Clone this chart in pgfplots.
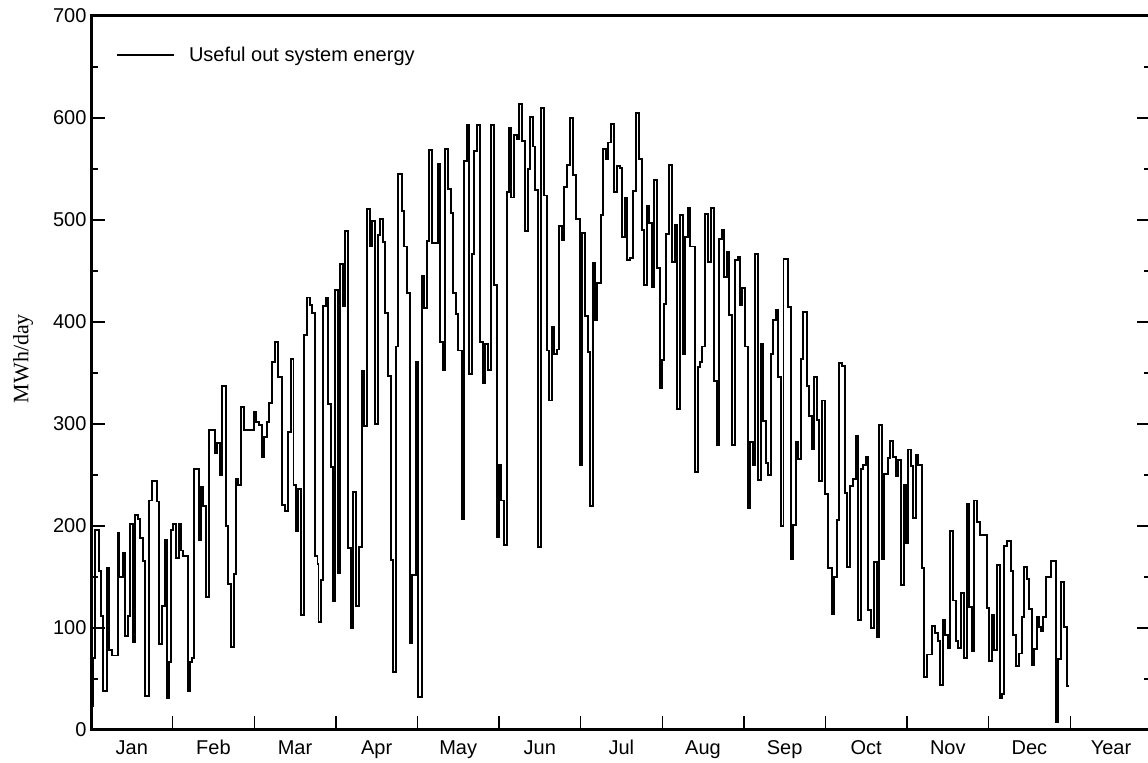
\documentclass[border=0pt]{standalone}
\usepackage{fontspec}
\setmainfont{Liberation Sans}
\newfontfamily\seriffont{Liberation Serif}
\usepackage{pgfplots}
\pgfplotsset{compat=1.18}
\usepackage{pgfplotstable}

% px = horizontal position (axis starts at 91, one month = 81.6)
\pgfplotstableread{
px val
91 23
93.3 71
95.3 196
98.7 156
101 112
103.3 38
106.7 159
109.3 78
112 73
117.7 193
119.3 150
122.7 174
125.3 92
128 112
130.3 202
132.7 86
134.7 211
137.7 207
140.3 188
142.7 166
145.3 33
149.3 225
152 244
156.7 224
158.7 84
162 122
164.7 186
167 31
169.3 67
171.3 196
173.3 202
176 169
178.7 202
181 176
183.3 171
187.7 38
190 67
192 71
194.3 256
199 186
201 238
203.3 220
206 130
209 294
215 272
217.3 281
219.7 250
222.3 337
225.7 200
228.3 143
230.7 81
233.7 153
236 246
238.3 240
240.7 317
243.7 294
253.7 312
256 302
259.3 299
261.7 268
264.3 287
266.7 302
269 321
271.7 361
275 380
277.7 346
282.3 221
285 215
288.3 292
290.7 364
293.5 240
296 195
298.3 236
301 113
304 387
306.7 424
310 417
312.3 409
315 171
317.5 163
318.5 106
320.7 147
322.7 416
325.7 424
328.3 320
330.7 258
333.3 126
335 431
337.7 154
340 457
343.3 416
345 489
348.3 178
351 100
353.3 233
355.7 122
359 179
361.7 352
364.3 298
367 511
370 474
372.3 499
375 300
377.7 485
380 501
383.3 478
385 409
388.3 347
391 167
393.3 57
396 376
398.3 545
401.7 509
404.3 474
406.7 428
410 85
412.3 152
416 361
418.3 32
421.7 445
424.3 414
426.7 479
429.3 569
432.3 477
437.7 555
440 380
442.7 353
445 570
448.3 530
450.7 507
453.3 428
456 408
458.3 372
461.7 207
464 558
466.7 593
469.3 349
471.7 467
474 568
477.3 593
480 380
482.7 340
485 378
487.7 353
490.7 593
494 436
496.7 189
499 260
501 225
504 181
506.7 527
509 590
511 522
513.7 583
516.7 579
519 614
521.7 577
525 489
527.7 550
530 601
532.7 572
535 529
538.3 179
541 610
544.3 524
546.7 372
549 323
551.7 395
554 369
556.7 373
559 494
561.7 480
564.3 532
566.7 554
570 600
573.3 544
575.7 501
580 260
582.3 487
585 406
587.7 371
590 220
592.7 458
595 402
597.3 438
600.7 505
603.3 570
606 560
608.3 576
611 594
614 527
616.7 553
620 551
622.3 483
625 522
627.3 461
630 463
632.7 528
635.7 605
639.3 560
641.7 490
644 436
646.7 514
649.3 497
651.7 434
654 539
657.3 453
660 335
662 363
664 418
666 486
668.7 554
671.7 459
675 495
677.3 315
680 505
682.7 369
685 483
687.7 512
690 474
695 253
697.7 356
700 361
702.3 376
705 506
708.3 459
711 512
714.3 342
716.7 279
719 481
721.7 490
724.3 444
726.7 469
729.3 407
732.3 279
735 461
737.7 464
740 417
742.3 433
745 376
747.7 218
750 282
752.7 260
755 467
757.7 245
761 378
763.3 303
765.7 262
768.3 250
771 369
773.3 402
775.7 412
778.3 346
781 200
783.5 462
788.3 415
791 168
793.3 201
796 282
798.3 266
801 364
803.3 410
806.7 337
809.3 308
811.7 275
814.3 346
816.7 304
819.3 244
822.3 323
825 231
828.3 159
831.7 114
834 150
836.7 206
839.3 360
842.3 357
845 232
847.3 160
850 239
852.7 246
856 288
858.3 108
860.7 256
863.3 260
866 268
868.3 118
871 100
874 165
876.7 91
879 299
881.7 168
884.3 251
887.7 267
890 283
893.3 268
895.7 249
898.3 265
901 142
903.7 240
906.3 183
908.3 275
911 259
913.3 208
915.7 270
918.3 260
921.7 159
924.3 52
926.7 74
932.3 102
935 95
937.7 87
940 44
942.7 108
945 93
947.7 80
950 195
953.3 127
956 87
958.3 80
961 134
963.7 71
966.7 222
969.3 121
971.7 77
974 225
977.3 204
980 191
986.7 120
989.3 68
991.7 113
994 78
996.7 162
1000 31
1002.3 35
1004.3 180
1007.3 185
1010.7 156
1013.3 93
1016 63
1019 75
1021.7 111
1024 160
1026.7 148
1029.3 119
1031.7 64
1034 79
1036.7 111
1039 101
1041 97
1042.7 111
1045.7 150
1051 166
1056 8
1058.3 70
1060.7 145
1064 101
1066.7 43
1069 43
}\energy

\begin{document}
\begin{tikzpicture}
\begin{axis}[
  name=ax,
  scale only axis,
  width=1060pt, height=714pt,
  xmin=0, xmax=12.99, ymin=0, ymax=700,
  axis line style={line width=2.8pt, black},
  xtick={1,...,12}, xticklabels={},
  xtick pos=bottom,
  extra x ticks={0.5,1.5,...,12.5},
  extra x tick labels={Jan,Feb,Mar,Apr,May,Jun,Jul,Aug,Sep,Oct,Nov,Dec,Year},
  extra x tick style={tick style={draw=none}, xticklabel style={yshift=-6pt, text height=15pt, text depth=4pt}},
  ytick={0,100,...,700},
  minor y tick num=1,
  ytick pos=both,
  tick align=inside,
  major tick length=14pt, minor tick length=7pt,
  tick style={line width=1.4pt, black},
  ticklabel style={font=\fontsize{20}{24}\selectfont},
  yticklabel style={xshift=-1pt},
  /pgf/number format/assume math mode=true,
  ylabel={MWh/day},
  ylabel style={font=\seriffont\fontsize{22}{26}\selectfont, at={(axis description cs:-0.064,0.52)}, anchor=center},
  legend style={draw=none, fill=none, inner sep=0pt, at={(axis description cs:0.0235,0.9454)}, anchor=west, font=\fontsize{20}{24}\selectfont},
  legend cell align=left,
  legend image code/.code={\draw[line width=1.8pt, black] (0pt,0pt) -- (57pt,0pt); \path[draw=none] (0pt,0pt) -- (70pt,0pt);},
]
\addplot[const plot, black, line width=1.9pt] table[x expr=(\thisrow{px}-91)/81.6, y=val] {\energy};
\addlegendentry{Useful out system energy}
\end{axis}
\draw[line width=3pt, black] (ax.south west) rectangle (ax.north east);
\pgfresetboundingbox
\path ([xshift=-91pt,yshift=-33pt]ax.south west) rectangle ([xshift=-3pt,yshift=16pt]ax.north east);
\end{tikzpicture}
\end{document}
